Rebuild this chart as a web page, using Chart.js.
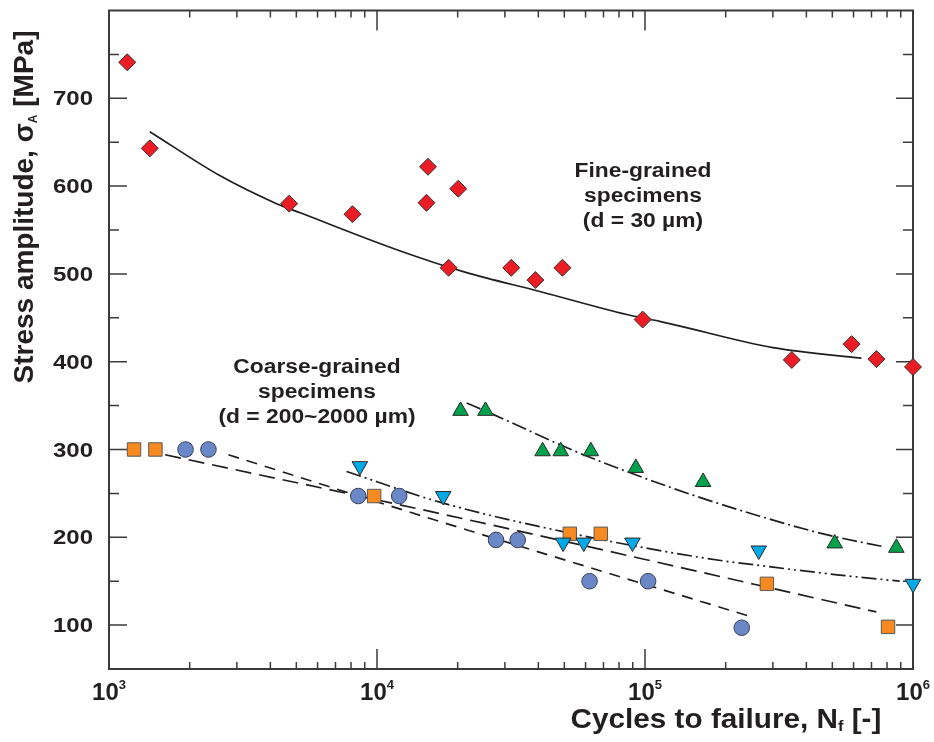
<!DOCTYPE html>
<html lang="en">
<head>
<meta charset="UTF-8">
<title>Stress amplitude vs. cycles to failure</title>
<script src="https://cdn.jsdelivr.net/npm/chart.js"></script>
<style>
  html, body { margin: 0; padding: 0; background: #fff; }
  #wrap { width: 934px; height: 742px; }
</style>
</head>
<body>
<div id="wrap"><canvas id="snChart" width="934" height="742"></canvas></div>
<script>
// fine-grained specimens (d = 30 um)
const fineN = [1170, 1420, 4700, 8100, 15500, 15300, 20100, 18500, 31700, 39000, 49200, 98000, 353000, 590000, 730000, 1000000];
const fineS = [741, 643, 580, 568, 622, 581, 597, 507, 507, 493, 507, 448, 402, 420, 403, 394];

// coarse-grained specimens, four batches
const squareN = [1240, 1490, 9760, 52400, 68400, 285000, 807000];
const squareS = [300, 300, 247, 204, 204, 147, 98];
const circleN = [1930, 2350, 8510, 12100, 27800, 33500, 62100, 102700, 229600];
const circleS = [300, 300, 247, 247, 197, 197, 150, 150, 97];
const downTriN = [8630, 17660, 49500, 59100, 89800, 265800, 1000000];
const downTriS = [281, 247, 194, 194, 194, 185, 147];
const upTriN = [20500, 25400, 41500, 48500, 62800, 92400, 164700, 510500, 866900];
const upTriS = [344, 344, 298, 298, 298, 279, 263, 193, 188];

// fitted curves
const fineFitN = [1420, 2590, 4220, 5230, 12000, 21300, 40500, 90300, 113500, 300500, 642000];
const fineFitS = [662, 612, 580, 569, 527, 502, 480, 452, 446, 416, 404];
const upTriFitN = [21600, 27100, 53900, 85300, 151100, 268100, 475300, 784300];
const upTriFitS = [353, 340, 299, 275, 248, 224, 203, 189];
const downTriFitN = [7700, 17160, 53900, 169600, 300500, 532700, 892000];
const downTriFitS = [275, 240, 204, 176, 166, 157, 150];
const squareFitN = [1620, 17200, 730000];
const squareFitS = [294, 227, 115];
const circleFitN = [2790, 17160, 246000];
const circleFitS = [294, 218, 110];

// axis ticks
const xDecades = [1e3, 1e4, 1e5, 1e6];
const xExponents = ['3', '4', '5', '6'];
const yMajor = [100, 200, 300, 400, 500, 600, 700];
const yMinor = [150, 250, 350, 450, 550, 650, 750];

const FONT = '"Liberation Sans", Arial, Helvetica, sans-serif';
const INK = '#231f20';

function pts(xs, ys) {
  return xs.map((x, i) => ({ x: x, y: ys[i] }));
}

function markers(xs, ys, style, fill, edge, r, rot) {
  return {
    type: 'scatter', data: pts(xs, ys), order: 0, clip: false,
    pointStyle: style, pointRadius: r, pointHoverRadius: r,
    pointRotation: rot || 0,
    backgroundColor: fill, borderColor: edge, borderWidth: 1
  };
}

function fit(xs, ys, dash) {
  return {
    type: 'line', data: pts(xs, ys), order: 1,
    borderColor: '#1e1e1e', borderWidth: 1.7, borderDash: dash,
    pointRadius: 0, fill: false, cubicInterpolationMode: 'monotone'
  };
}

// text made of runs: {t, size, dy}; stretched horizontally by sx
function runs(ctx, parts, x, y, sx, align) {
  let w = 0;
  parts.forEach(p => { ctx.font = 'bold ' + p.size + 'px ' + FONT; p.w = ctx.measureText(p.t).width; w += p.w; });
  ctx.save();
  ctx.translate(x, y);
  ctx.scale(sx, 1);
  let cx = align === 'right' ? -w : (align === 'left' ? 0 : -w / 2);
  ctx.textAlign = 'left';
  ctx.textBaseline = 'alphabetic';
  parts.forEach(p => {
    ctx.font = 'bold ' + p.size + 'px ' + FONT;
    ctx.fillText(p.t, cx, p.dy || 0);
    cx += p.w;
  });
  ctx.restore();
}

const frame = {
  id: 'frame',
  beforeDatasetsDraw(chart) {
    const ctx = chart.ctx, xs = chart.scales.x, ys = chart.scales.y;
    const { left, right, top, bottom } = chart.chartArea;
    ctx.save();
    ctx.strokeStyle = '#3a3a3a';
    ctx.lineWidth = 2;
    ctx.strokeRect(left, top, right - left, bottom - top);
    ctx.lineWidth = 1.5;
    ctx.beginPath();
    yMajor.forEach(v => {
      const p = ys.getPixelForValue(v);
      ctx.moveTo(left, p); ctx.lineTo(left + 18, p);
      ctx.moveTo(right, p); ctx.lineTo(right - 17, p);
    });
    yMinor.forEach(v => {
      const p = ys.getPixelForValue(v);
      ctx.moveTo(left, p); ctx.lineTo(left + 10, p);
      ctx.moveTo(right, p); ctx.lineTo(right - 10, p);
    });
    xDecades.forEach((d, i) => {
      const p = xs.getPixelForValue(d);
      if (i > 0 && i < xDecades.length - 1) {
        ctx.moveTo(p, bottom); ctx.lineTo(p, bottom - 20);
        ctx.moveTo(p, top); ctx.lineTo(p, top + 20);
      }
      if (i < xDecades.length - 1) {
        for (let m = 2; m <= 9; m++) {
          const q = xs.getPixelForValue(d * m);
          ctx.moveTo(q, bottom); ctx.lineTo(q, bottom - 7);
          ctx.moveTo(q, top); ctx.lineTo(q, top + 7);
        }
      }
    });
    ctx.stroke();
    ctx.restore();
  },
  afterDraw(chart) {
    const ctx = chart.ctx, xs = chart.scales.x, ys = chart.scales.y;
    const { left, bottom } = chart.chartArea;
    ctx.save();
    ctx.fillStyle = INK;

    // y tick labels
    ctx.textBaseline = 'alphabetic';
    yMajor.forEach(v => {
      runs(ctx, [{ t: String(v), size: 20 }], left - 16, ys.getPixelForValue(v) + 7, 1.2, 'right');
    });

    // x tick labels, 10 with raised exponent
    xDecades.forEach((d, i) => {
      runs(ctx, [{ t: '10', size: 24 }, { t: xExponents[i], size: 13, dy: -11 }],
        xs.getPixelForValue(d), bottom + 31, 1.0, 'center');
    });

    // axis titles
    runs(ctx, [{ t: 'Cycles to failure, N', size: 27 }, { t: 'f', size: 15, dy: 3 }, { t: ' [-]', size: 27 }],
      726, 728, 1.1, 'center');

    ctx.save();
    ctx.translate(33, 207);
    ctx.rotate(-Math.PI / 2);
    runs(ctx, [{ t: 'Stress amplitude, \u03c3', size: 28 }, { t: 'A', size: 12, dy: 4 }, { t: ' [MPa]', size: 28 }],
      0, 0, 1.0, 'center');
    ctx.restore();

    // group annotations
    const fineLines = ['Fine-grained', 'specimens', '(d = 30 \u00b5m)'];
    fineLines.forEach((t, i) => runs(ctx, [{ t: t, size: 19.5 }], 643, 177 + i * 25, 1.17, 'center'));
    const coarseLines = ['Coarse-grained', 'specimens', '(d = 200~2000 \u00b5m)'];
    coarseLines.forEach((t, i) => runs(ctx, [{ t: t, size: 19.5 }], 317, 373 + i * 25, 1.17, 'center'));
    ctx.restore();
  }
};

new Chart(document.getElementById('snChart'), {
  type: 'scatter',
  data: {
    datasets: [
      markers(fineN, fineS, 'rectRot', '#ec1c24', '#333333', 8.5),
      markers(upTriN, upTriS, 'triangle', '#00a14b', '#2a2a2a', 9),
      markers(downTriN, downTriS, 'triangle', '#00aae8', '#2a2a2a', 9, 180),
      markers(squareN, squareS, 'rect', '#f6891f', '#5a5a5a', 9.5),
      markers(circleN, circleS, 'circle', '#6a88c8', '#3a3f55', 7.8),
      fit(fineFitN, fineFitS, []),
      fit(upTriFitN, upTriFitS, [15, 4, 2, 4]),
      fit(downTriFitN, downTriFitS, [15, 4, 2, 4, 2, 4]),
      fit(squareFitN, squareFitS, [16, 8]),
      fit(circleFitN, circleFitS, [11, 8])
    ]
  },
  options: {
    responsive: false,
    animation: false,
    devicePixelRatio: 1,
    layout: { padding: { left: 109, top: 9, right: 21, bottom: 73 } },
    plugins: { legend: { display: false }, tooltip: { enabled: false } },
    scales: {
      x: { type: 'logarithmic', min: 1000, max: 1000000, display: false },
      y: { type: 'linear', min: 50, max: 800, display: false }
    }
  },
  plugins: [frame]
});
</script>
</body>
</html>
